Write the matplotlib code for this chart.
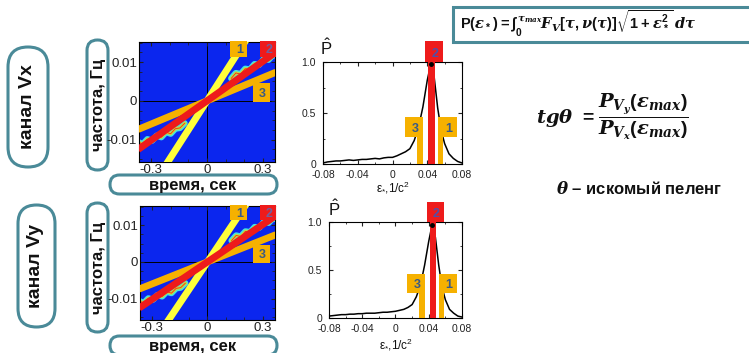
import numpy as np
import matplotlib
matplotlib.use("Agg")
import matplotlib.pyplot as plt
from matplotlib.patches import FancyBboxPatch, Rectangle

plt.rcParams['font.family'] = ['Liberation Sans', 'DejaVu Sans']
plt.rcParams['mathtext.fontset'] = 'custom'
plt.rcParams['mathtext.it'] = 'DejaVu Serif:italic:bold'
plt.rcParams['mathtext.rm'] = 'Liberation Sans:bold'
plt.rcParams['mathtext.bf'] = 'Liberation Sans:bold'

W, H = 749, 353

TEAL = '#4a8a98'
BLUE = '#0b26ee'
RED = '#ee1b1b'
ORANGE = '#f6b100'
YELLOW = '#ffff3a'
NUMCOL = '#3a5a86'

# time-frequency panels: lines through origin (slope in Hz per sec)
line_names = ['1', '2', '3']
line_slopes = [0.075, 0.034, 0.020]
line_colors = [YELLOW, RED, ORANGE]
t_range = [-0.37, 0.37]

# signal ridges (cyan contours)
t_rib_hi = [0.13, 0.155, 0.18, 0.205, 0.23, 0.255, 0.28, 0.305, 0.33, 0.355, 0.37]
f_rib_hi = [0.0058, 0.0072, 0.0069, 0.0083, 0.0081, 0.0095, 0.0093, 0.0108, 0.0106, 0.0119, 0.0117]
t_rib_lo = [-0.37, -0.345, -0.32, -0.295, -0.27, -0.245, -0.22, -0.195, -0.17, -0.145, -0.12]
f_rib_lo = [-0.0106, -0.0112, -0.0099, -0.0103, -0.0090, -0.0094, -0.0081, -0.0085, -0.0072, -0.0070, -0.0058]

# normalised P(eps) curves
eps = [-0.08, -0.075, -0.07, -0.065, -0.06, -0.055, -0.05, -0.045, -0.04, -0.035,
       -0.03, -0.025, -0.02, -0.015, -0.01, -0.005, 0.0, 0.005, 0.01, 0.015,
       0.02, 0.025, 0.03, 0.035, 0.04, 0.044, 0.048, 0.052, 0.056, 0.06,
       0.065, 0.07, 0.075, 0.08]
p_vx = [0.01, 0.02, 0.025, 0.03, 0.03, 0.035, 0.04, 0.035, 0.04, 0.045,
        0.045, 0.05, 0.055, 0.05, 0.06, 0.065, 0.065, 0.08, 0.10, 0.12,
        0.15, 0.23, 0.36, 0.56, 0.82, 0.98, 0.85, 0.55, 0.33, 0.20,
        0.10, 0.055, 0.025, 0.01]
p_vy = [0.02, 0.025, 0.03, 0.035, 0.035, 0.04, 0.04, 0.045, 0.045, 0.05,
        0.05, 0.05, 0.055, 0.06, 0.06, 0.065, 0.07, 0.08, 0.09, 0.11,
        0.14, 0.22, 0.34, 0.55, 0.80, 0.97, 0.84, 0.55, 0.32, 0.19,
        0.09, 0.05, 0.02, 0.01]

# eps positions of the three line estimates
eps_bar2 = (0.041, 0.049)
eps_stem3 = (0.028, 0.035)
eps_stem1 = (0.0524, 0.058)


def px_axes(fig, x0, y0, x1, y1):
    return fig.add_axes([x0 / W, 1 - y1 / H, (x1 - x0) / W, (y1 - y0) / H])


def pill(ax, x0, y0, x1, y1, r=None):
    w, h = x1 - x0, y1 - y0
    if r is None:
        r = min(w, h) / 2
    ax.add_patch(FancyBboxPatch((x0, y0), w, h,
                                boxstyle=f"round,pad=0,rounding_size={r}",
                                fc='white', ec=TEAL, lw=2.2))


def tf_panel(ax):
    ax.set_facecolor(BLUE)
    ax.axhline(0, color='black', lw=0.7, zorder=1)
    ax.axvline(0, color='black', lw=0.7, zorder=1)
    for tt, ff in [(t_rib_hi, f_rib_hi), (t_rib_lo, f_rib_lo)]:
        ax.plot(tt, ff, color='#40e0e8', lw=4.5, zorder=2, solid_capstyle='round')
        ax.plot(tt, ff, color='#9be36a', lw=2.6, zorder=2)
        ax.plot(tt, ff, color='#f0d020', lw=1.4, zorder=2)
        ax.plot(tt, ff, color='#e03020', lw=0.6, zorder=2)
    t = np.array(t_range)
    for i in [0, 2, 1]:
        ax.plot(t, line_slopes[i] * t, color=line_colors[i], lw=5, zorder=3,
                solid_capstyle='butt')
    ax.set_xlim(-0.365, 0.365)
    ax.set_ylim(-0.0158, 0.0152)
    ax.set_xticks([-0.3, 0, 0.3])
    ax.set_xticklabels(['-0.3', '0', '0.3'])
    ax.set_yticks([-0.01, 0, 0.01])
    ax.set_yticklabels(['-0.01', '0', '0.01'])
    ax.set_xticks(np.arange(-0.3, 0.31, 0.1), minor=True)
    ax.set_yticks(np.arange(-0.015, 0.0151, 0.0025), minor=True)
    ax.tick_params(which='both', direction='in', top=True, right=True,
                   labelsize=9.5, color='#222222', labelcolor='#222222', pad=1.5)
    ax.tick_params(which='major', length=3)
    ax.tick_params(which='minor', length=2)
    for s in ax.spines.values():
        s.set_linewidth(0.8)
    # labels for the three lines (axes fraction)
    boxes = [(0.67, 0.875, 0.125, 0.133, ORANGE, '1'),
             (0.89, 0.875, 0.115, 0.133, RED, '2'),
             (0.838, 0.50, 0.125, 0.158, ORANGE, '3')]
    for x0, y0, w, h, c, lab in boxes:
        ax.add_patch(Rectangle((x0, y0), w, h, transform=ax.transAxes,
                               fc=c, ec='none', zorder=5, clip_on=False))
        ax.text(x0 + w * 0.55, y0 + h * 0.42, lab, transform=ax.transAxes,
                ha='center', va='center', fontsize=9, fontweight='bold',
                color=NUMCOL if lab != '2' else '#7060a0', zorder=6)


def p_panel(ax, p):
    ax.plot(eps, p, color='black', lw=1.1, zorder=2)
    ax.plot([eps[int(np.argmax(p))]], [max(p)], 'o', color='black', ms=2.5, zorder=5)
    ax.axvspan(*eps_bar2, color=RED, lw=0, zorder=4)
    ax.axvspan(*eps_stem3, ymax=0.265, color=ORANGE, lw=0, zorder=4)
    ax.axvspan(*eps_stem1, ymax=0.265, color=ORANGE, lw=0, zorder=4)
    boxes = [(0.0374, 1.0, 0.0206, 0.205, RED, '2', '#5050a8'),
             (0.0144, 0.265, 0.0207, 0.195, ORANGE, '3', NUMCOL),
             (0.0524, 0.265, 0.0219, 0.195, ORANGE, '1', NUMCOL)]
    for x0, y0, w, h, c, lab, tc in boxes:
        ax.add_patch(Rectangle((x0, y0), w, h, fc=c, ec='none', zorder=4,
                               clip_on=False))
        ax.text(x0 + w * 0.55, y0 + h * 0.4, lab, ha='center', va='center',
                fontsize=9, fontweight='bold', color=tc, zorder=6)
    ax.set_xlim(-0.08, 0.08)
    ax.set_ylim(0, 1.0)
    ax.set_xticks([-0.08, -0.04, 0, 0.04, 0.08])
    ax.set_xticklabels(['-0.08', '-0.04', '0', '0.04', '0.08'])
    ax.set_yticks([0, 0.5, 1.0])
    ax.set_yticklabels(['0', '0.5', '1.0'])
    ax.set_xticks(np.arange(-0.08, 0.081, 0.02), minor=True)
    ax.set_yticks(np.arange(0, 1.01, 0.25), minor=True)
    ax.tick_params(which='both', direction='in', top=True, right=True,
                   labelsize=7.5, color='#222222', labelcolor='#222222')
    ax.tick_params(axis='x', pad=4.5)
    ax.tick_params(axis='y', pad=5)
    ax.tick_params(which='major', length=3)
    ax.tick_params(which='minor', length=1.5)
    for s in ax.spines.values():
        s.set_linewidth(0.8)


fig = plt.figure(figsize=(W / 100, H / 100), dpi=100)
fig.patch.set_facecolor('white')

bg = fig.add_axes([0, 0, 1, 1], zorder=0)
bg.set_xlim(0, W)
bg.set_ylim(H, 0)
bg.axis('off')

# rounded label boxes
pill(bg, 8, 47, 48, 167)
bg.text(28, 107, 'канал Vx', rotation=90, ha='center', va='center',
        fontsize=14, fontweight='bold', color='#111111')
pill(bg, 18, 205, 55, 327)
bg.text(36, 266, 'канал Vy', rotation=90, ha='center', va='center',
        fontsize=14, fontweight='bold', color='#111111')
for y0, y1 in [(40, 170), (203, 332)]:
    pill(bg, 87, y0, 108, y1)
    bg.text(98, (y0 + y1) / 2, 'частота, Гц', rotation=90, ha='center',
            va='center', fontsize=12, fontweight='bold', color='#111111')
for y0, y1 in [(175, 194), (336, 355)]:
    pill(bg, 110, y0, 277, y1)
    bg.text(193, (y0 + y1) / 2 + 1, 'время, сек', ha='center', va='center',
            fontsize=12, fontweight='bold', color='#111111')

# P-hat and eps labels
for xp, yp, xl, yl in [(326, 48, 393, 188), (334, 209, 396, 345)]:
    bg.text(xp, yp, r'$\mathregular{\hat{P}}$', ha='center', va='center',
            fontsize=12, color='#111111')
    bg.text(xl, yl, r'ε$_\mathregular{*}$,1/c$^\mathregular{2}$', ha='center',
            va='center', fontsize=8.5, color='#111111')

# formula box
bg.add_patch(Rectangle((453, 7), 310, 35, fc='white', ec=TEAL, lw=2.2))
bg.text(460, 24, r'$\mathrm{P}(\varepsilon_*) = \int_0^{\tau_{max}}F_V[\tau,\nu(\tau)]'
        r'\sqrt{1+\varepsilon_*^2}\,d\tau$', ha='left', va='center', fontsize=10.5,
        color='#111111')
bg.text(612, 117, r'$tg\theta\ = \dfrac{P_{V_y}(\varepsilon_{max})}{P_{V_x}(\varepsilon_{max})}$',
        ha='center', va='center', fontsize=14, color='#111111')
bg.text(639, 188, r'$\theta$ – искомый пеленг', ha='center', va='center',
        fontsize=12, fontweight='bold', color='#111111')

ax1 = px_axes(fig, 139, 42, 275, 162)
tf_panel(ax1)
ax2 = px_axes(fig, 140, 206, 275, 320)
tf_panel(ax2)

ax3 = px_axes(fig, 323, 62, 462, 164)
p_panel(ax3, p_vx)
ax4 = px_axes(fig, 329, 222, 462, 318)
p_panel(ax4, p_vy)

fig.savefig('out.png', dpi=100, facecolor='white')
